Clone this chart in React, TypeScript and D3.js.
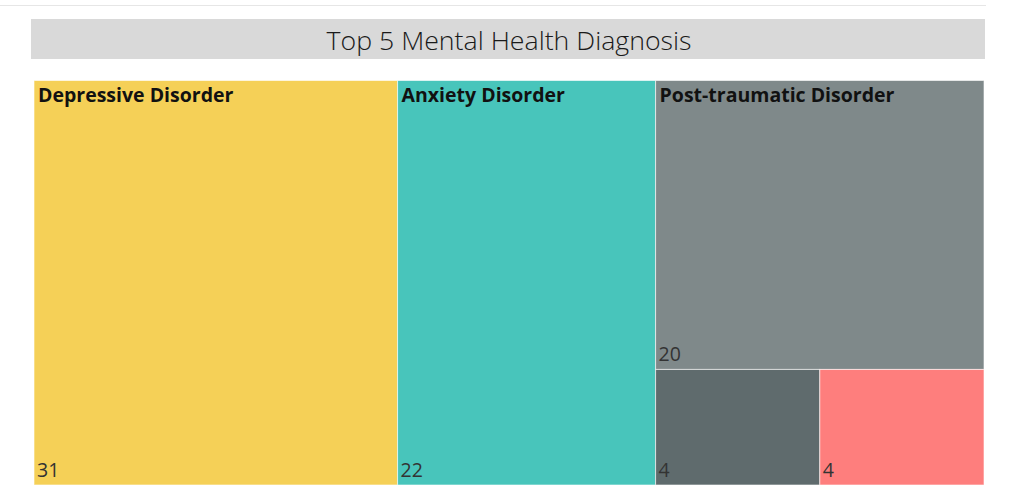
import React from "react";
import * as d3 from "d3";

const categories = ["Depressive Disorder", "Anxiety Disorder", "Post-traumatic Disorder", "Bipolar Disorder", "Schizophrenia"];
const values = [31, 22, 20, 4, 4];
const colors = ["#F5D057", "#48C5BB", "#7F898A", "#5F6B6D", "#FE7E7D"];

const W = 1009;
const H = 499;
const box = { x0: 34, y0: 80.5, x1: 984, y1: 485 };
const FONT = "'Open Sans', 'Noto Sans', sans-serif";

export default function App() {
  const data = {
    name: "root",
    children: categories.map((c, i) => ({ name: c, value: values[i], color: colors[i] })),
  };
  const root = d3
    .hierarchy<any>(data)
    .sum((d: any) => d.value || 0)
    .sort((a, b) => (b.value || 0) - (a.value || 0));
  d3
    .treemap<any>()
    .tile(d3.treemapSquarify.ratio(1))
    .size([box.x1 - box.x0, box.y1 - box.y0])
    .paddingInner(0)(root);
  const leaves = root.leaves() as any[];

  return (
    <svg width={W} height={H} style={{ position: "absolute", left: 0, top: 0, background: "#fff" }}>
      <rect x={0} y={0} width={W} height={H} fill="#fff" />
      <line x1={0} x2={986} y1={5.5} y2={5.5} stroke="#e6e6e6" strokeWidth={1} />
      <rect x={31} y={19} width={954} height={40} fill="#D9D9D9" />
      <text x={509} y={50} textAnchor="middle" fontFamily={FONT} fontSize={26.5} fontWeight={300} fill="#1a1a1a" textLength={365} lengthAdjust="spacingAndGlyphs">
        Top 5 Mental Health Diagnosis
      </text>
      <g transform={`translate(${box.x0},${box.y0})`}>
        {leaves.map((l, i) => (
          <g key={i}>
            <rect
              x={l.x0}
              y={l.y0}
              width={l.x1 - l.x0}
              height={l.y1 - l.y0}
              fill={l.data.color}
              stroke="#ffffff"
              strokeOpacity={0.6}
              strokeWidth={1}
            />
            {l.y1 - l.y0 > 150 && (
              <text x={l.x0 + 4} y={l.y0 + 21} fontFamily={FONT} fontSize={19.5} fontWeight={700} fill="#111">
                {l.data.name}
              </text>
            )}
            <text x={l.x0 + 3} y={l.y1 - 8.5} fontFamily={FONT} fontSize={19.5} fill="#333">
              {l.value}
            </text>
          </g>
        ))}
      </g>
    </svg>
  );
}
